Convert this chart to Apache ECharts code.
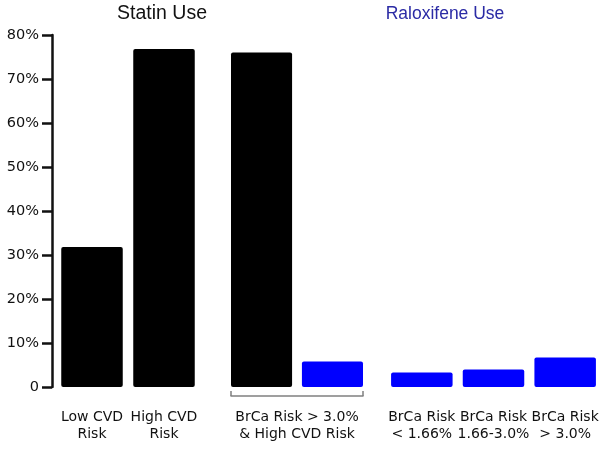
<!DOCTYPE html>
<html>
<head>
<meta charset="utf-8">
<script src="https://cdn.jsdelivr.net/npm/echarts@6/dist/echarts.min.js"></script>
<style>
  html, body { margin: 0; padding: 0; background: #fff; }
  #main { width: 606px; height: 450px; }
</style>
</head>
<body>
<div id="main"></div>
<script>
// statin use, low vs high CVD risk
const statinCats = ["Low CVD\nRisk", "High CVD\nRisk"];
const statinVals = [31.8, 76.8];

// women with BrCa risk > 3.0% and high CVD risk
const comboCats = ["BrCa Risk > 3.0%\n& High CVD Risk"];
const comboStatin = [76.0];
const comboRalox = [5.8];

// raloxifene use by breast cancer risk
const raloxCats = ["BrCa Risk\n< 1.66%", "BrCa Risk\n1.66-3.0%", "BrCa Risk\n> 3.0%"];
const raloxVals = [3.3, 4.0, 6.7];

const yTicks = [0, 10, 20, 30, 40, 50, 60, 70, 80];

const labelFont = "DejaVu Sans";
const chartDom = document.getElementById("main");
const myChart = echarts.init(chartDom);

const gridTop = 35;
const gridH = 352;

function yAxisFor(idx, show) {
  return {
    type: "value",
    gridIndex: idx,
    min: yTicks[0],
    max: yTicks[yTicks.length - 1],
    interval: 10,
    show: show,
    offset: show ? 4 : 0,
    splitLine: { show: false },
    axisLine: { show: show, lineStyle: { color: "#111", width: 2.5 } },
    axisTick: { show: show, length: 10, lineStyle: { color: "#111", width: 2.5 } },
    axisLabel: {
      show: show,
      margin: 13,
      color: "#111",
      fontFamily: labelFont,
      fontSize: 14.5,
      formatter: (v) => (v === 0 ? "0" : v + "%"),
    },
  };
}

function xAxisFor(idx, cats, bracket) {
  return {
    type: "category",
    gridIndex: idx,
    data: cats,
    offset: bracket ? 9 : 0,
    axisLine: { show: bracket, onZero: false, lineStyle: { color: "#808080", width: 1.5 } },
    axisTick: { show: bracket, inside: true, length: 5, lineStyle: { color: "#808080", width: 1.5 } },
    axisLabel: {
      margin: bracket ? 13 : 22,
      color: "#111",
      fontFamily: labelFont,
      fontSize: 14,
      lineHeight: 17,
      interval: 0,
    },
  };
}

const barBase = {
  type: "bar",
  barWidth: 61.5,
  animation: false,
};

const option = {
  animation: false,
  title: [
    {
      text: "Statin Use",
      left: 162,
      top: 4,
      textAlign: "center",
      padding: 0,
      textStyle: { fontFamily: "Liberation Sans", fontSize: 19.5, fontWeight: "normal", color: "#111" },
    },
    {
      text: "Raloxifene Use",
      left: 445,
      top: 5,
      textAlign: "center",
      padding: 0,
      textStyle: { fontFamily: "Liberation Sans", fontSize: 17.5, fontWeight: "normal", color: "#2b2ba5" },
    },
  ],
  grid: [
    { left: 56, top: gridTop, width: 144, height: gridH },
    { left: 231, top: gridTop, width: 132, height: gridH },
    { left: 386, top: gridTop, width: 215, height: gridH },
  ],
  xAxis: [
    xAxisFor(0, statinCats, false),
    xAxisFor(1, comboCats, true),
    xAxisFor(2, raloxCats, false),
  ],
  yAxis: [yAxisFor(0, true), yAxisFor(1, false), yAxisFor(2, false)],
  series: [
    {
      ...barBase,
      name: "Statin",
      xAxisIndex: 0,
      yAxisIndex: 0,
      data: statinVals,
      itemStyle: { color: "#000", borderRadius: 2 },
    },
    {
      ...barBase,
      name: "Statin (combo)",
      xAxisIndex: 1,
      yAxisIndex: 1,
      barGap: "16%",
      data: comboStatin,
      itemStyle: { color: "#000", borderRadius: 2 },
    },
    {
      ...barBase,
      name: "Raloxifene (combo)",
      xAxisIndex: 1,
      yAxisIndex: 1,
      barGap: "16%",
      data: comboRalox,
      itemStyle: { color: "#0000ff", borderRadius: 2 },
    },
    {
      ...barBase,
      name: "Raloxifene",
      xAxisIndex: 2,
      yAxisIndex: 2,
      data: raloxVals,
      itemStyle: { color: "#0000ff", borderRadius: 2 },
    },
  ],
};

myChart.setOption(option);
</script>
</body>
</html>
